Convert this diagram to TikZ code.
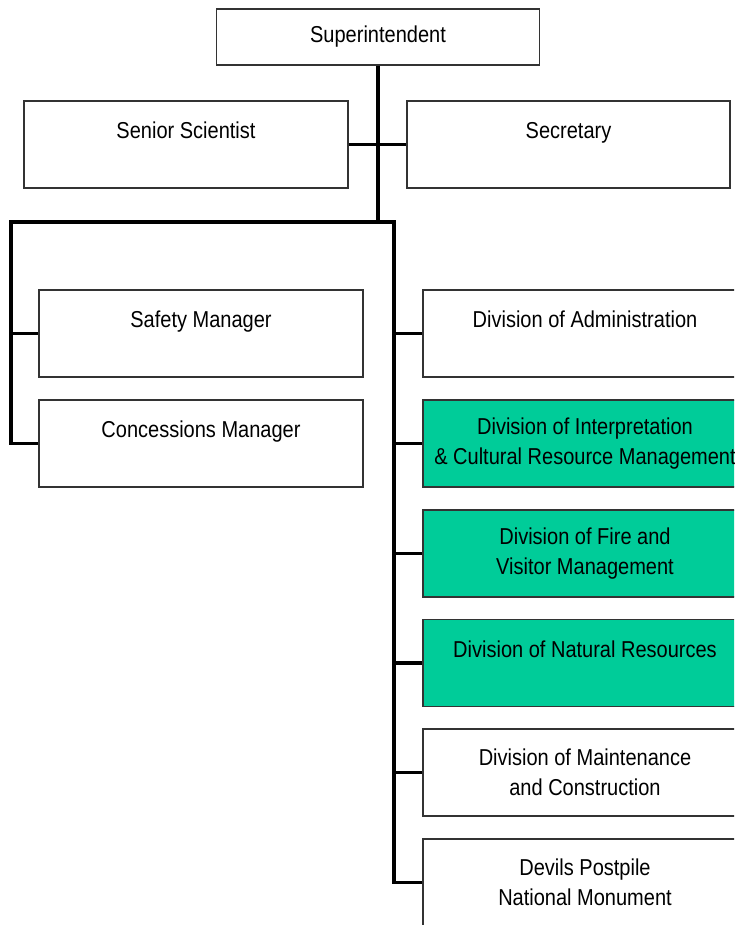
\documentclass[tikz,border=0pt]{standalone}
\usepackage{fontspec}
\setmainfont{Liberation Sans}[FakeStretch=0.87]
\usepackage{tikz}
\definecolor{orgGreen}{RGB}{0,204,153}
\definecolor{orgGray}{RGB}{51,51,51}

\begin{document}
\begin{tikzpicture}[x=1pt,y=-1pt,
  unit/.style={draw=orgGray, line width=1.3pt, minimum width=324pt, minimum height=87pt,
    inner sep=0pt, align=center, font=\fontsize{23}{30}\selectfont},
  oneline/.style={text depth=28pt},
  division/.style={unit, fill=orgGreen},
  link/.style={line width=3.2pt}]
\useasboundingbox (0,0) rectangle (734,925);
\clip (0,0) rectangle (734,925);

\node[unit, minimum width=323pt, minimum height=56pt] (supt) at (378,37) {Superintendent};
\node[unit, oneline] (scientist) at (186,144.5) {Senior Scientist};
\node[unit, oneline, minimum width=323pt] (secretary) at (568.5,144.5) {Secretary};

% staff, left branch
\node[unit, oneline] (safety) at (201,333.5) {Safety Manager};
\node[unit, oneline] (concess) at (201,443.5) {Concessions Manager};

% divisions, right branch
\node[unit, oneline] (admin) at (585,333.5) {Division of Administration};
\node[division] (interp) at (585,443.5) {Division of Interpretation\\ \& Cultural Resource Management};
\node[division] (fire) at (585,553.5) {Division of Fire and\\ Visitor Management};
\node[division, oneline] (natural) at (585,663) {Division of Natural Resources};
\node[unit] (maint) at (585,772.5) {Division of Maintenance\\ and Construction};
\node[unit] (monument) at (585,882.5) {Devils Postpile\\ National Monument};

\coordinate (lrail) at (11,222);
\coordinate (rrail) at (394,222);

\draw[link] (supt.south) -- (supt.south |- lrail);
\draw[link] (scientist.east) -- (secretary.west);
\draw[link] (concess.west) -| (lrail) -- (rrail) |- (monument.west);
\draw[link] (lrail |- safety.west) -- (safety.west);
\draw[link] (rrail |- admin.west) -- (admin.west);
\draw[link] (rrail |- interp.west) -- (interp.west);
\draw[link] (rrail |- fire.west) -- (fire.west);
\draw[link] (rrail |- natural.west) -- (natural.west);
\draw[link] (rrail |- maint.west) -- (maint.west);
\end{tikzpicture}
\end{document}
